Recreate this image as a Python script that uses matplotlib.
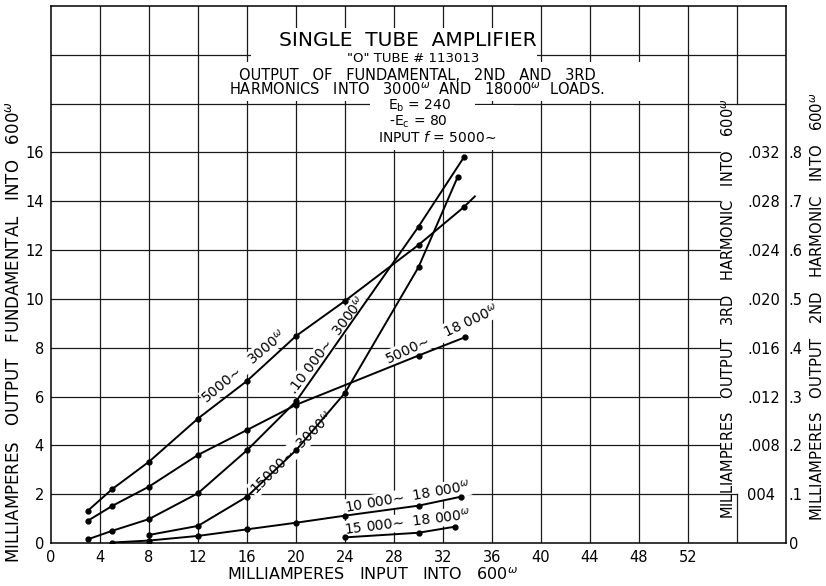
import matplotlib.pyplot as plt
from matplotlib.patches import Rectangle

# milliamperes input into 600 ohm (x) and output
# fundamental, 5000~ into 3000 ohm / 18000 ohm  (left scale, mA)
a_x = [3, 5, 8, 12, 16, 20, 24, 30, 33.7, 34.6]
a_y = [1.32, 2.21, 3.33, 5.1, 6.64, 8.48, 9.92, 12.21, 13.76, 14.2]
a_dots = [0, 1, 2, 3, 4, 5, 6, 7, 8]
b_x = [3, 5, 8, 12, 16, 20, 30, 33.8]
b_y = [0.91, 1.52, 2.31, 3.61, 4.63, 5.66, 7.68, 8.43]

# 2nd harmonic, 10000~ (outer right scale, mA)
c_x = [3, 5, 8, 12, 16, 20, 30, 33.7]
c_y = [0.0075, 0.025, 0.049, 0.102, 0.19, 0.29, 0.648, 0.79]
e_x = [5, 8, 12, 16, 20, 24, 30, 33.5]
e_y = [0.001, 0.005, 0.0145, 0.028, 0.0415, 0.056, 0.0765, 0.095]

# 3rd harmonic, 15000~ (inner right scale, mA)
d_x = [8, 12, 16, 20, 24, 30, 33.2]
d_y = [0.00066, 0.0014, 0.0038, 0.0076, 0.0123, 0.0226, 0.030]
f_x = [24, 30, 33]
f_y = [0.00046, 0.00084, 0.00134]

x_ticks = list(range(0, 53, 4))
y_ticks = list(range(0, 17, 2))
h2_ticks = [0, .1, .2, .3, .4, .5, .6, .7, .8]
h2_labels = ['0', '.1', '.2', '.3', '.4', '.5', '.6', '.7', '.8']
h3_ticks = [.004, .008, .012, .016, .020, .024, .028, .032]
h3_labels = ['004', '.008', '.012', '.016', '.020', '.024', '.028', '.032']

TL = '\u223c'
OM = '$^{\\omega}$'

fig = plt.figure(figsize=(8.26, 5.86), dpi=100)
ax = fig.add_axes([51 / 826, 1 - 543 / 586, 735 / 826, 537 / 586])
ax.set_xlim(0, 60)
ax.set_ylim(0, 22)
for s in ax.spines.values():
    s.set_linewidth(1.1)

# hand-ruled grid
gk = dict(color='#1a1a1a', lw=0.9, zorder=1)
for y in range(2, 17, 2):
    ax.plot([0, 56 if y == 2 else 54.6], [y, y], **gk)
for y in (18, 20):
    ax.plot([0, 60], [y, y], **gk)
for x in range(4, 53, 4):
    ax.plot([x, x], [0, 22], **gk)
ax.plot([56, 56], [0, 2], **gk)
ax.plot([56, 56], [18, 22], **gk)

# erased areas behind the title lettering
for (x0, y0, w, h) in [(16.3, 19.5, 23.4, 1.6), (13.9, 18.1, 36.6, 1.6),
                       (26, 16.1, 8.6, 2.0), (34.6, 16.1, 3.2, 1.85)]:
    ax.add_patch(Rectangle((x0, y0), w, h, facecolor='white', edgecolor='none', zorder=2))

ax.set_xticks(x_ticks)
ax.set_yticks(y_ticks)
ax.tick_params(length=0, labelsize=10.5, pad=5)

ck = dict(color='black', lw=1.4, marker='o', ms=3.5, zorder=4)
ax.plot(a_x, a_y, markevery=a_dots, **ck)
ax.plot(b_x, b_y, **ck)

ax2 = ax.twinx()
ax2.set_ylim(0, 1.1)
ax2.set_yticks(h2_ticks)
ax2.set_yticklabels(h2_labels)
ax2.tick_params(length=0, labelsize=10.5, pad=2)
ax2.plot(c_x, c_y, **ck)
ax2.plot(e_x, e_y, **ck)

ax3 = ax.twinx()
ax3.set_ylim(0, 0.044)
ax3.set_yticks(h3_ticks)
ax3.set_yticklabels(h3_labels)
ax3.tick_params(length=0, labelsize=10.5, pad=-28)
ax3.plot(d_x, d_y, **ck)
ax3.plot(f_x, f_y, **ck)
for a in (ax2, ax3):
    for s in a.spines.values():
        s.set_visible(False)

# title block
tk = dict(ha='center', va='center', zorder=3)
ax.text(29.1, 20.6, 'SINGLE  TUBE  AMPLIFIER', fontsize=14.5, **tk)
ax.text(29.6, 19.83, '"O" TUBE # 113013', fontsize=9.5, **tk)
ax.text(29.9, 19.17, 'OUTPUT   OF   FUNDAMENTAL,   2ND   AND   3RD', fontsize=10.5, **tk)
ax.text(29.9, 18.56, 'HARMONICS   INTO   3000' + OM + '  AND   18000' + OM + '  LOADS.',
        fontsize=10.5, **tk)
ax.text(30.1, 17.9, 'E$_\\mathregular{b}$ = 240', fontsize=10, **tk)
ax.text(30.0, 17.24, '-E$_\\mathregular{c}$ = 80', fontsize=10, **tk)
ax.text(31.5, 16.6, 'INPUT $f$ = 5000' + TL, fontsize=10, **tk)

# curve labels
lk = dict(ha='center', va='center', fontsize=10, zorder=3,
          bbox=dict(facecolor='white', edgecolor='none', pad=0.5))
ax.text(15.76, 7.25, '5000' + TL + '   3000' + OM, rotation=40, **lk)
ax.text(22.5, 8.11, '.10 000' + TL + '  3000' + OM, rotation=53, **lk)
ax.text(31.9, 8.56, '5000' + TL + '    18 000' + OM, rotation=25, **lk)
ax.text(19.6, 3.7, '15000' + TL + '  3000' + OM, rotation=45, **lk)
ax.text(29.1, 1.88, '10 000' + TL + '  18 000' + OM, rotation=10, **lk)
ax.text(29.1, 0.86, '15 000' + TL + '  18 000' + OM, rotation=7, **lk)

# axis titles
fig.text(14 / 826, 1 - 332 / 586, 'MILLIAMPERES   OUTPUT   FUNDAMENTAL   INTO   600' + OM,
         rotation=90, ha='center', va='center', fontsize=12)
fig.text(372 / 826, 1 - 575 / 586, 'MILLIAMPERES   INPUT   INTO   600' + OM,
         ha='center', va='center', fontsize=11.5)
fig.text(729 / 826, 1 - 309 / 586, 'MILLIAMPERES   OUTPUT   3RD   HARMONIC   INTO   600' + OM,
         rotation=90, ha='center', va='center', fontsize=10.5)
fig.text(818 / 826, 1 - 307 / 586, 'MILLIAMPERES   OUTPUT   2ND   HARMONIC   INTO   600' + OM,
         rotation=90, ha='center', va='center', fontsize=10.7)

fig.savefig('out.png', dpi=100)
